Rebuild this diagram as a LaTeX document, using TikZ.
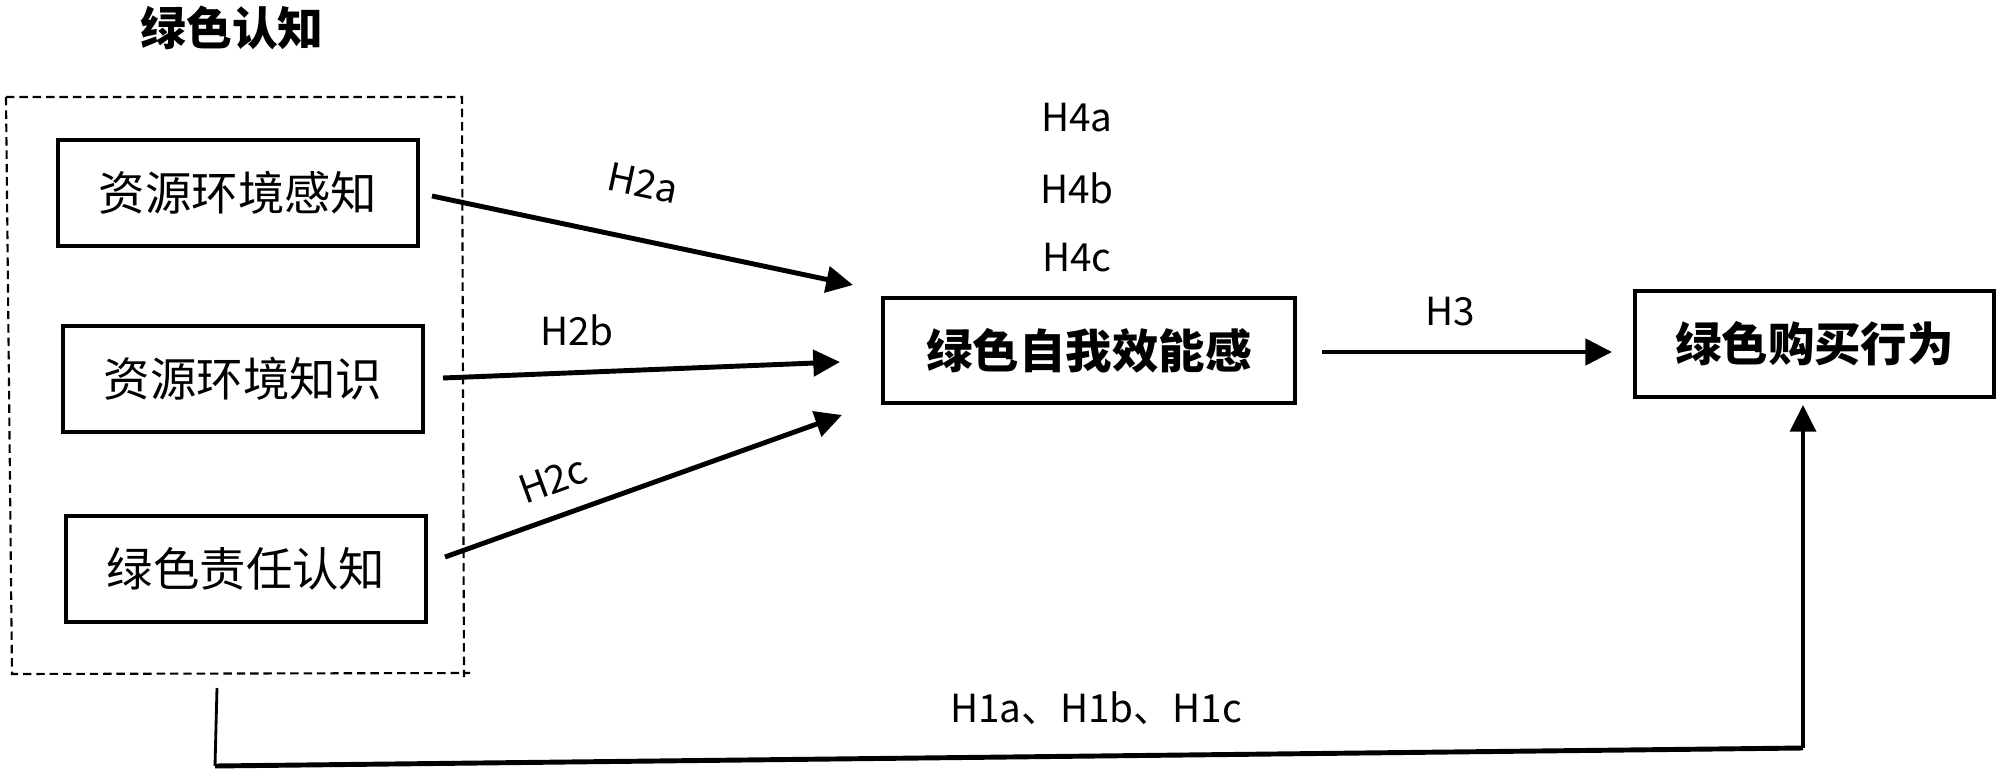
\documentclass[tikz,border=0pt]{standalone}
\usepackage{fontspec}
\setmainfont{Noto Sans CJK SC}
\usetikzlibrary{arrows.meta,calc}
\begin{document}
\begin{tikzpicture}[x=0.01cm,y=-0.01cm,
  box/.style={draw,line width=1.2pt,minimum width=3.6cm,minimum height=1.06cm,inner sep=0pt,font=\fontsize{13.2}{15}\selectfont},
  bbox/.style={box,font=\fontsize{13.2}{15}\selectfont\bfseries},
  lab/.style={font=\fontsize{11}{13}\selectfont,inner sep=0pt},
  arr/.style={line width=1.4pt,-{Triangle[length=7.6pt,width=7.4pt]}},
  dbox/.style={draw,line width=0.6pt,dash pattern=on 2.4pt off 1.4pt}]
\useasboundingbox (0,0) rectangle (2000,776);
% title
\node[font=\fontsize{13}{15}\selectfont\bfseries,inner sep=0pt] (title) at (232,28) {绿色认知};
% dashed group
\draw[dbox] (6,97) -- (462,97) -- (464,677);
\draw[dbox] (6,97) -- (12,674) -- (470,673);
% boxes
\node[box] (r1) at (238,193) {资源环境感知};
\node[box] (r2) at (243,379) {资源环境知识};
\node[box] (r3) at (246,569) {绿色责任认知};
\node[bbox,minimum width=4.12cm,minimum height=1.05cm] (se) at (1089,350.5) {绿色自我效能感};
\node[bbox,minimum width=3.59cm] (gb) at (1814.5,344) {绿色购买行为};
% arrow ends
\coordinate (ta) at (853,285);
\coordinate (tb) at (840,362);
\coordinate (tc) at (842,415);
\coordinate (sa) at (432,196);
\coordinate (sb) at (443,378);
\coordinate (sc) at (445,557);
\coordinate (s3) at (1322,352);
\coordinate (t3) at (1612,352);
\draw[arr] (sa) -- (ta);
\draw[arr] (sb) -- (tb);
\draw[arr] (sc) -- (tc);
\draw[arr] (s3) -- (t3);
% labels
\node[lab,rotate=-12] (l2a) at (643,183) {H2a};
\node[lab] (l2b) at (577,330) {H2b};
\node[lab,rotate=20] (l2c) at (553,480) {H2c};
\node[lab] (l4a) at (1077,118) {H4a};
\node[lab] (l4b) at (1077,188) {H4b};
\node[lab] (l4c) at (1077,258) {H4c};
\node[lab] (l3) at (1450,312) {H3};
\node[lab] (l1) at (1096,708) {H1a、H1b、H1c};
% bottom connector
\coordinate (b0) at (217,688);
\coordinate (b1) at (215,766);
\coordinate (b2) at (1803,748);
\coordinate (b3) at (1803,405);
\draw[line width=0.8pt] (b0) -- (b1);
\draw[line width=1.4pt] (b1) -- (b2);
\draw[arr,line width=1pt] (b2) -- (b3);
\end{tikzpicture}
\end{document}
